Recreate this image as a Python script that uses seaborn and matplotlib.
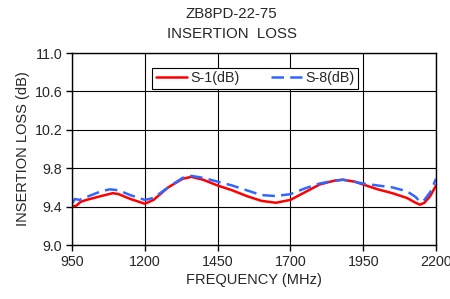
import matplotlib
matplotlib.use("Agg")
import matplotlib.pyplot as plt
import seaborn as sns
import pandas as pd

freq_s1 = [950, 965, 980, 1000, 1050, 1090, 1110, 1150, 1200, 1230, 1280, 1330, 1360, 1400,
           1450, 1500, 1550, 1600, 1650, 1700, 1750, 1800, 1850, 1880, 1920, 1950, 2000,
           2050, 2100, 2130, 2145, 2160, 2180, 2200]
s1_db = [9.40, 9.41, 9.45, 9.47, 9.51, 9.54, 9.53, 9.48, 9.43, 9.47, 9.60, 9.69, 9.71, 9.68,
         9.62, 9.57, 9.51, 9.46, 9.44, 9.47, 9.55, 9.63, 9.67, 9.68, 9.66, 9.63, 9.58,
         9.54, 9.49, 9.44, 9.42, 9.44, 9.51, 9.62]
freq_s8 = [950, 960, 975, 1000, 1050, 1080, 1110, 1150, 1200, 1230, 1280, 1330, 1360, 1400,
           1450, 1500, 1550, 1600, 1650, 1700, 1750, 1800, 1850, 1880, 1920, 1950, 2000,
           2050, 2100, 2130, 2145, 2160, 2180, 2200]
s8_db = [9.43, 9.48, 9.47, 9.50, 9.56, 9.58, 9.57, 9.52, 9.47, 9.49, 9.60, 9.70, 9.72, 9.70,
         9.66, 9.62, 9.57, 9.52, 9.51, 9.53, 9.59, 9.64, 9.67, 9.68, 9.66, 9.64, 9.62,
         9.60, 9.56, 9.50, 9.45, 9.47, 9.55, 9.69]
x_ticks = [950, 1200, 1450, 1700, 1950, 2200]
y_ticks = [9.0, 9.4, 9.8, 10.2, 10.6, 11.0]

sns.set_theme(style="white")
plt.rcParams['font.family'] = ['Liberation Sans', 'DejaVu Sans']

fig = plt.figure(figsize=(4.5, 2.99), dpi=100)
ax = fig.add_axes([0.16, 0.1806, 0.809, 0.642])

df1 = pd.DataFrame({"f": freq_s1, "v": s1_db})
df8 = pd.DataFrame({"f": freq_s8, "v": s8_db})
sns.lineplot(data=df1, x="f", y="v", ax=ax, color="#FF0000", lw=1.8, label="S-1(dB)")
sns.lineplot(data=df8, x="f", y="v", ax=ax, color="#3366FF", lw=1.8, dashes=(5, 2.5),
             label="S-8(dB)")

ax.set_xlim(950, 2200)
ax.set_ylim(9.0, 11.0)
ax.set_xticks(x_ticks)
ax.set_yticks(y_ticks)
ax.set_yticklabels([f"{v:.1f}" for v in y_ticks])
ax.grid(True, color="black", lw=0.8)
ax.tick_params(axis="both", direction="out", length=4, width=1, color="black",
               labelsize=10.3, pad=3, bottom=True, left=True)
for s in ax.spines.values():
    s.set_color("black")
    s.set_linewidth(1)
ax.set_xlabel("FREQUENCY (MHz)", fontsize=10.5, labelpad=3)
ax.set_ylabel("INSERTION LOSS (dB)", fontsize=10.5, labelpad=3)
fig.text(0.515, 0.953, "ZB8PD-22-75", ha="center", va="center", fontsize=10.8)
fig.text(0.515, 0.886, "INSERTION  LOSS", ha="center", va="center", fontsize=10.8)

leg = ax.legend(loc="upper center", bbox_to_anchor=(0.503, 0.96), ncol=2, fontsize=10.3,
                frameon=True, fancybox=False, edgecolor="black", framealpha=1,
                handlelength=2.2, columnspacing=2.2, borderpad=0.25, handletextpad=0.2)
leg.get_frame().set_linewidth(0.8)

fig.savefig("out.png", dpi=100)
